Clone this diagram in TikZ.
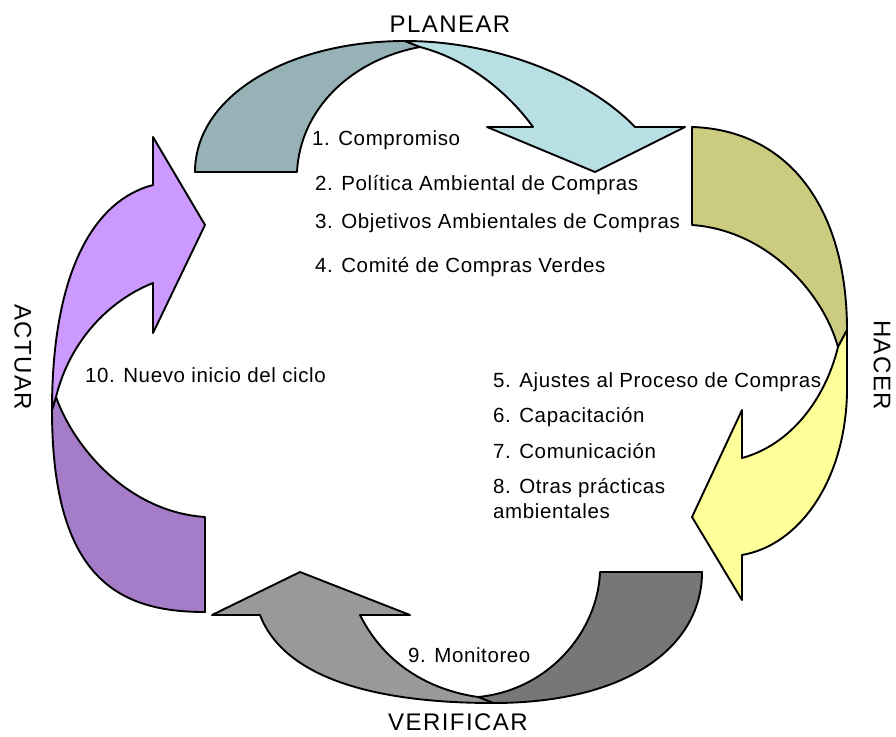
\documentclass[tikz,border=0pt]{standalone}
\usepackage{fontspec}
\setmainfont{Liberation Sans}
\usepackage{tikz}

\definecolor{planback}{RGB}{150,178,182}
\definecolor{planfront}{RGB}{184,224,228}
\definecolor{hacerback}{RGB}{204,204,128}
\definecolor{hacerfront}{RGB}{255,255,153}
\definecolor{verifback}{RGB}{119,119,119}
\definecolor{veriffront}{RGB}{153,153,153}
\definecolor{actback}{RGB}{164,124,200}
\definecolor{actfront}{RGB}{204,153,255}

\tikzset{
  band/.style={draw=black,line width=1.9pt,line join=round},
  item/.style={anchor=base west,inner sep=0pt,font=\fontsize{20.5}{24}\selectfont\addfontfeatures{LetterSpace=3}},
  phase/.style={inner sep=0pt,font=\fontsize{24}{28}\selectfont\addfontfeatures{LetterSpace=6}},
}

\begin{document}
\begin{tikzpicture}[x=1pt,y=-1pt]
  \useasboundingbox (0,0) rectangle (896,736);

  % planear
  \filldraw[band,fill=planback] (195,172) .. controls (195,95) and (290,41) .. (405,41) -- (420,47)
    .. controls (350,60) and (300,110) .. (297,172) -- cycle;
  \filldraw[band,fill=planfront] (405,41) .. controls (500,41) and (590,80) .. (635,127) -- (685,127)
    -- (595,172) -- (487,127) -- (533,127) .. controls (510,95) and (470,60) .. (420,47) -- cycle;

  % hacer
  \filldraw[band,fill=hacerback] (692,127) .. controls (790,130) and (847,210) .. (847,330) -- (838,347)
    .. controls (822,290) and (765,230) .. (692,225) -- cycle;
  \filldraw[band,fill=hacerfront] (847,330) -- (847,393) .. controls (845,480) and (800,545) .. (742,555)
    -- (742,600) -- (692,517) -- (742,410) -- (742,458) .. controls (790,445) and (825,400) .. (838,347) -- cycle;

  % verificar
  \filldraw[band,fill=verifback] (493,703) .. controls (630,703) and (702,645) .. (702,572) -- (600,572)
    .. controls (598,630) and (550,690) .. (478,697) -- cycle;
  \filldraw[band,fill=veriffront] (260,615) .. controls (285,680) and (380,703) .. (493,703) -- (478,697)
    .. controls (430,690) and (385,665) .. (360,615) -- (410,615) -- (300,572) -- (212,615) -- cycle;

  % actuar
  \filldraw[band,fill=actback] (205,612) .. controls (120,612) and (52,580) .. (52,410) -- (56,397)
    .. controls (75,450) and (130,512) .. (205,517) -- cycle;
  \filldraw[band,fill=actfront] (52,410) .. controls (52,270) and (95,200) .. (153,185) -- (153,137)
    -- (205,225) -- (153,333) -- (153,283) .. controls (110,300) and (70,340) .. (56,397) -- cycle;

  % phase names
  \node[phase,anchor=base] (planear) at (450,32) {PLANEAR};
  \node[phase,rotate=-90] (hacer) at (882,365) {HACER};
  \node[phase,anchor=base] (verificar) at (458,730) {VERIFICAR};
  \node[phase,rotate=-90] (actuar) at (23,357) {ACTUAR};

  % steps
  \node[item] (s1) at (312,145) {1. Compromiso};
  \node[item] (s2) at (315,190) {2. Política Ambiental de Compras};
  \node[item] (s3) at (315,228) {3. Objetivos Ambientales de Compras};
  \node[item] (s4) at (315,272) {4. Comité de Compras Verdes};
  \node[item] (s5) at (493,387) {5. Ajustes al Proceso de Compras};
  \node[item] (s6) at (493,422) {6. Capacitación};
  \node[item] (s7) at (493,458) {7. Comunicación};
  \node[item] (s8) at (493,493) {8. Otras prácticas};
  \node[item] (s8b) at (493,518) {ambientales};
  \node[item] (s9) at (408,662) {9. Monitoreo};
  \node[item] (s10) at (85,382) {10. Nuevo inicio del ciclo};
\end{tikzpicture}
\end{document}
